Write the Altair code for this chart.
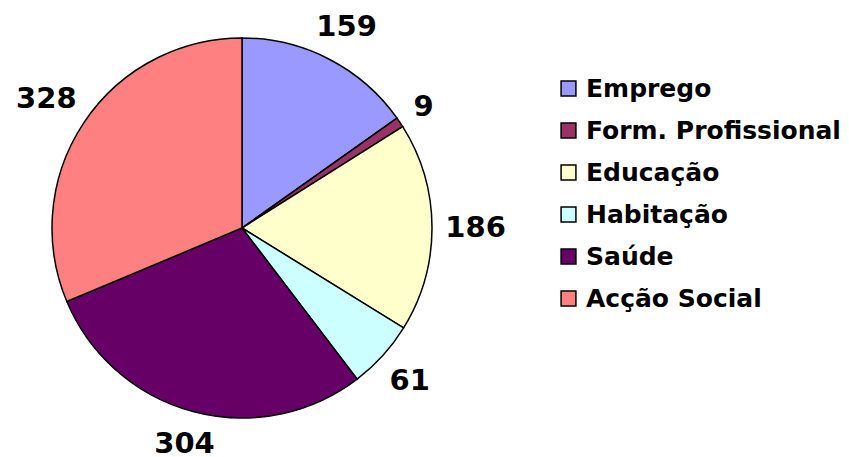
import altair as alt
import numpy as np
import pandas as pd

categories = ["Emprego", "Form. Profissional", "Educação", "Habitação", "Saúde", "Acção Social"]
values = [159, 9, 186, 61, 304, 328]
colors = ["#9999FF", "#993366", "#FFFFCC", "#CCFFFF", "#660066", "#FF8080"]

df = pd.DataFrame({"cat": categories, "val": values, "order": list(range(len(values)))})

FONT = "DejaVu Sans"
cx, cy = 234, 220
R = 190

# label angle at slice middle and distance keeping the label box just outside the pie edge
v = np.array(values, dtype=float)
mid = (np.cumsum(v) - v / 2) / v.sum() * 2 * np.pi
tw = np.array([len(str(x)) for x in values]) * 19.7
th = 23
df["mid"] = mid
df["lr"] = R + 14 + np.abs(np.sin(mid)) * tw / 2 + np.abs(np.cos(mid)) * th / 2

arcs = alt.Chart(df).mark_arc(outerRadius=R, stroke="black", strokeWidth=1.5).encode(
    theta=alt.Theta("val:Q", stack=True),
    order=alt.Order("order:Q"),
    color=alt.Color(
        "cat:N",
        scale=alt.Scale(domain=categories, range=colors),
        sort=categories,
        legend=alt.Legend(
            title=None,
            orient="none",
            legendX=548,
            legendY=68,
            symbolType="square",
            symbolSize=220,
            symbolStrokeColor="black",
            symbolStrokeWidth=1.5,
            labelFont=FONT,
            labelFontWeight="bold",
            labelFontSize=25,
            labelColor="black",
            rowPadding=16,
            labelOffset=5,
            labelLimit=400,
        ),
    ),
    x=alt.value(cx),
    y=alt.value(cy),
)

labels = alt.Chart(df).mark_text(
    font=FONT, fontWeight="bold", fontSize=29, color="black",
    align="center", baseline="middle", dy=1,
).encode(
    theta=alt.Theta("mid:Q", scale=None, stack=False),
    radius=alt.Radius("lr:Q", scale=None),
    text=alt.Text("val:Q"),
    x=alt.value(cx),
    y=alt.value(cy),
)

chart = (
    alt.layer(arcs, labels)
    .properties(width=833, height=449, autosize=alt.AutoSizeParams(type="none"), padding=0)
    .configure_view(stroke=None)
)

chart.save("out.html", embed_options={"renderer": "svg", "actions": False})
